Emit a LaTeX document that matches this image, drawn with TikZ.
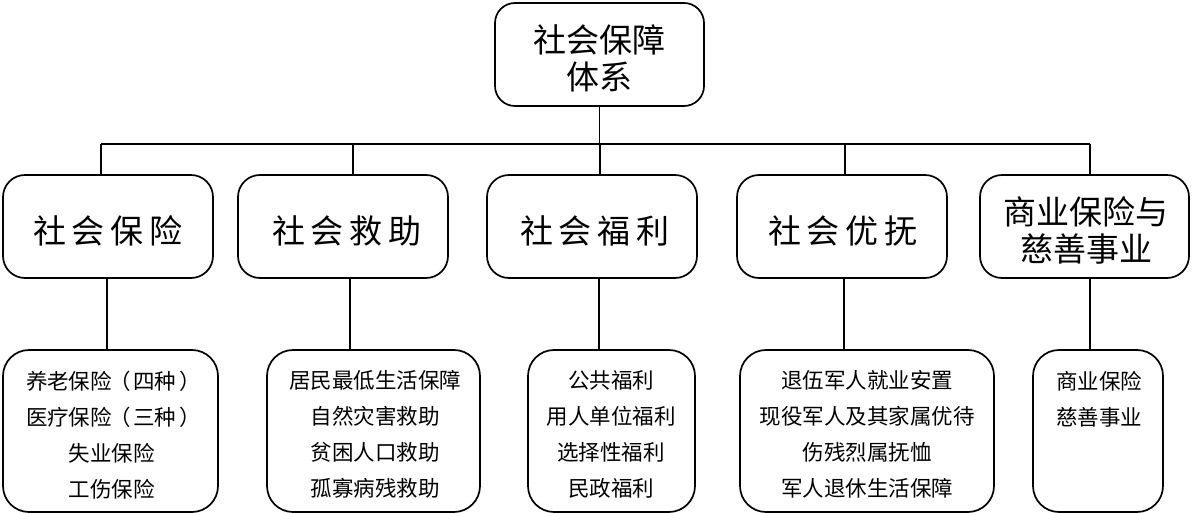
\documentclass[tikz,border=0pt]{standalone}
\usepackage{fontspec}
\setmainfont{Noto Sans CJK SC}
\newcommand\ls{\hspace{6pt}}
\newcommand\lp{\kern-3pt（\kern3pt}
\newcommand\rp{\kern3pt）\kern-3pt}
\begin{document}
\begin{tikzpicture}[x=1pt,y=-1pt,line width=1.7pt,
  box/.style={draw,rounded corners=22pt,inner sep=0pt,outer sep=0pt},
  lowbox/.style={draw,rounded corners=26pt,inner sep=0pt,outer sep=0pt},
  bigtext/.style={inner sep=0pt,align=center,font=\fontsize{33}{37}\selectfont},
  smalltext/.style={inner sep=0pt,align=center,anchor=north,font=\fontsize{21.5}{36}\selectfont},
  link/.style={line width=1.7pt}]
\useasboundingbox (0,0) rectangle (1192,513);

% top
\node[box,rounded corners=20pt,minimum width=209pt,minimum height=103pt] (top) at (599.5,54.5) {};
\node[bigtext] (toptext) at (599.5,58) {社会保障\\体系};

% level 2
\node[box,minimum width=210pt,minimum height=103pt] (b1) at (108,226.5) {};
\node[box,minimum width=210pt,minimum height=103pt] (b2) at (343,226.5) {};
\node[box,minimum width=210pt,minimum height=103pt] (b3) at (592,226.5) {};
\node[box,minimum width=210pt,minimum height=103pt] (b4) at (842,226.5) {};
\node[box,minimum width=209pt,minimum height=103pt] (b5) at (1084.5,226.5) {};
\node[bigtext] (t1) at (108,231) {社\ls 会\ls 保\ls 险};
\node[bigtext] (t2) at (347,231) {社\ls 会\ls 救\ls 助};
\node[bigtext] (t3) at (595,231) {社\ls 会\ls 福\ls 利};
\node[bigtext] (t4) at (843,231) {社\ls 会\ls 优\ls 抚};
\node[bigtext] (t5) at (1086,230) {商业保险与\\慈善事业};

% level 3
\node[lowbox,minimum width=215pt,minimum height=162pt] (c1) at (110.5,431) {};
\node[lowbox,minimum width=213pt,minimum height=162pt] (c2) at (373.5,431) {};
\node[lowbox,minimum width=167pt,minimum height=162pt] (c3) at (611.5,431) {};
\node[lowbox,minimum width=254pt,minimum height=162pt] (c4) at (867,431) {};
\node[lowbox,minimum width=130pt,minimum height=162pt] (c5) at (1098,431) {};
\node[smalltext] (s1) at (112,370) {养老保险\lp 四种\rp\\医疗保险\lp 三种\rp\\失业保险\\工伤保险};
\node[smalltext] (s2) at (375,370) {居民最低生活保障\\自然灾害救助\\贫困人口救助\\孤寡病残救助};
\node[smalltext] (s3) at (611,370) {公共福利\\用人单位福利\\选择性福利\\民政福利};
\node[smalltext] (s4) at (867,370) {退伍军人就业安置\\现役军人及其家属优待\\伤残烈属抚恤\\军人退休生活保障};
\node[smalltext] (s5) at (1099,370) {商业保险\\慈善事业};

% connectors
\coordinate (bus) at (0,144);
\coordinate (u1) at (101,0);
\coordinate (u2) at (353,0);
\coordinate (u3) at (600,0);
\coordinate (u4) at (845,0);
\coordinate (u5) at (1090,0);
\coordinate (d1) at (107,0);
\coordinate (d2) at (350,0);
\coordinate (d3) at (599,0);
\coordinate (d4) at (844,0);
\coordinate (d5) at (1090,0);
\draw[link] (top.south) -- (top.south |- bus);
\draw[link] (u1 |- bus) -- (u5 |- bus);
\foreach \i in {1,...,5}{
  \draw[link] (u\i |- bus) -- (b\i.north -| u\i);
  \draw[link] (b\i.south -| d\i) -- (c\i.north -| d\i);
}
\end{tikzpicture}
\end{document}
